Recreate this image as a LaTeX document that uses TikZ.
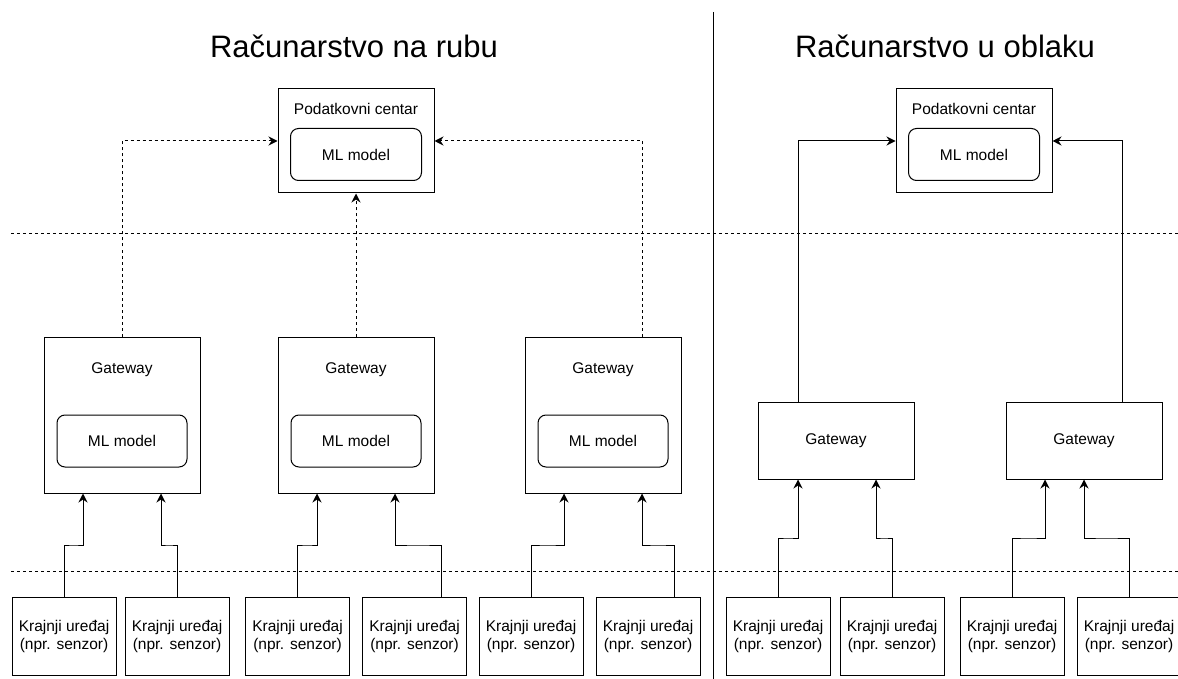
\documentclass[tikz,border=0pt]{standalone}
\usepackage{fontspec}
\setmainfont{Liberation Sans}
\usetikzlibrary{arrows.meta,calc}
\tikzstyle{box}=[draw,line width=1pt,inner sep=0pt,minimum width=156pt]
\tikzstyle{mlbox}=[draw,line width=1pt,rounded corners=8pt,minimum width=131pt,minimum height=52pt,inner sep=0pt]
\tikzstyle{device}=[draw,line width=1pt,minimum width=104pt,minimum height=78pt,align=center,inner sep=0pt]
\tikzstyle{boxtitle}=[inner sep=0pt]
\tikzstyle{sectiontitle}=[font=\fontsize{31}{36}\selectfont]
\tikzstyle{edge} = [draw,line width=1pt,-{Stealth[length=9pt,width=9pt,inset=3pt]}]
\tikzstyle{dashededge} = [edge,dash pattern=on 3pt off 3pt]
\tikzstyle{sepline} = [draw,line width=0.9pt,dash pattern=on 3pt off 3pt]

\begin{document}
\begin{tikzpicture}[x=1pt,y=-1pt,font=\fontsize{15.5}{18}\selectfont]
\useasboundingbox (0,0) rectangle (1178,679);

% Titles
\node[sectiontitle] (tedge) at (354,46) {Računarstvo na rubu};
\node[sectiontitle] (tcloud) at (945,46) {Računarstvo u oblaku};

% Separators
\draw[line width=1pt] (713,12) -- (713,679);
\draw[sepline] (11,233) -- (1178,233);
\draw[sepline] (11,571) -- (1178,571);

% Data centres
\foreach \pos/\name in {{(356,141)/dcl},{(974,141)/dcr}} {
    \node[box,minimum height=104pt] (\name) at \pos {};
    \node[boxtitle] (\name-title) at ($(\name.north)+(0,20)$) {Podatkovni centar};
    \node[mlbox] (\name-ml) at ($(\name.center)+(0,13.5)$) {ML model};
}

% Gateways with model (edge)
\foreach \pos/\name in {{(122,415)/g1},{(356,415)/g2},{(603,415)/g3}} {
    \node[box,minimum height=156pt] (\name) at \pos {};
    \node[boxtitle] (\name-title) at ($(\name.north)+(0,33)$) {Gateway};
    \node[mlbox,minimum width=130pt] (\name-ml) at ($(\name.center)+(0,26)$) {ML model};
}

% Gateways (cloud)
\foreach \pos/\name in {{(836,440.5)/rg1},{(1084,440.5)/rg2}}
    \node[box,minimum height=77pt] (\name) at \pos {Gateway};

% End devices
\foreach \x/\name in {64/d1,177/d2,297.5/d3,414.5/d4,531/d5,648/d6,778/d7,892/d8,1012/d9,1129/d10}
    \node[device] (\name) at (\x,636) {Krajnji uređaj\\(npr. senzor)};

% Devices -> gateways
\foreach \src/\dx/\dst/\ex in {d1/0/g1/-39, d2/0/g1/39, d3/0/g2/-39, d4/26.5/g2/39, d5/0/g3/-39, d6/26/g3/39, d7/0/rg1/-38, d8/0/rg1/40, d9/0/rg2/-39, d10/0/rg2/0} {
    \coordinate (\src-out) at ($(\src.north)+(\dx,0)$);
    \coordinate (\src-in) at ($(\dst.south)+(\ex,0)$);
    \draw[edge] (\src-out) |- ($(\src-out)!0.5!(\src-in)$) -| (\src-in);
}

% Gateways -> data centres
\draw[dashededge] (g1.north) |- (dcl.west);
\draw[dashededge] (g2.north) -- (dcl.south);
\coordinate (g3-out) at ($(g3.north)+(39,0)$);
\draw[dashededge] (g3-out) |- (dcl.east);
\coordinate (rg1-out) at ($(rg1.north)+(-38,0)$);
\draw[edge] (rg1-out) |- (dcr.west);
\coordinate (rg2-out) at ($(rg2.north)+(38,0)$);
\draw[edge] (rg2-out) |- (dcr.east);

\end{tikzpicture}
\end{document}
